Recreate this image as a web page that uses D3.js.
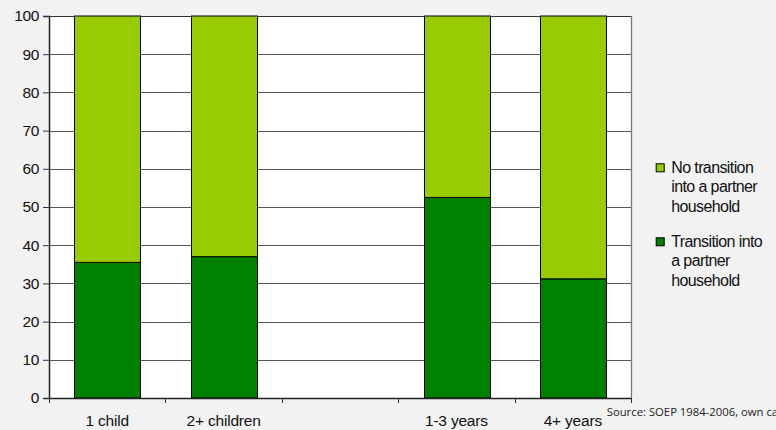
<!DOCTYPE html>
<html>
<head>
<meta charset="utf-8">
<script src="https://cdn.jsdelivr.net/npm/d3@7"></script>
<style>
  body { margin: 0; background: #f2f2f2; }
  text { font-family: "Liberation Sans", Arial, sans-serif; }
</style>
</head>
<body>
<div id="chart"></div>
<script>
// categories (empty slot between the two groups)
var categories = ["1 child", "2+ children", "", "1-3 years", "4+ years"];
var transition = [35.5, 37.0, null, 52.5, 31.2];
var noTransition = [64.5, 63.0, null, 47.5, 68.8];
var yTicks = [0, 10, 20, 30, 40, 50, 60, 70, 80, 90, 100];
var legendLines = [["No transition", "into a partner", "household"], ["Transition into", "a partner", "household"]];
var colors = ["#99cc00", "#008000"];

var margin = {top: 16, right: 145, bottom: 32, left: 49},
    width = 776 - margin.left - margin.right,
    height = 430 - margin.top - margin.bottom;

var svg = d3.select("#chart")
  .append("svg")
    .attr("width", 776)
    .attr("height", 430)
  .append("g")
    .attr("transform", "translate(" + margin.left + "," + margin.top + ")");

var x = d3.scaleBand()
  .domain(d3.range(categories.length))
  .range([0, width])
  .paddingInner(0.437)
  .paddingOuter(0.2185);

var y = d3.scaleLinear()
  .domain([0, 100])
  .range([height, 0]);

// plot background
svg.append("rect")
  .attr("width", width)
  .attr("height", height)
  .attr("fill", "#fff");

// gridlines
svg.append("g")
  .selectAll("line")
  .data(yTicks.slice(1))
  .enter()
  .append("line")
    .attr("x1", 0)
    .attr("x2", width)
    .attr("y1", function(d) { return Math.round(y(d)) + 0.5; })
    .attr("y2", function(d) { return Math.round(y(d)) + 0.5; })
    .attr("stroke", function(d) { return d === 100 ? "#333" : "#555"; })
    .attr("stroke-width", 1.2);

// right border
svg.append("line")
  .attr("x1", width + 0.5).attr("x2", width + 0.5)
  .attr("y1", 0).attr("y2", height)
  .attr("stroke", "#777")
  .attr("stroke-width", 1.3);

// stacked bars
var stack = categories.map(function(c, i) {
  return {i: i, t: transition[i], n: noTransition[i]};
}).filter(function(d) { return d.t !== null; });

var bars = svg.append("g");
bars.selectAll(".dark")
  .data(stack)
  .enter()
  .append("rect")
    .attr("x", function(d) { return Math.round(x(d.i)) + 0.5; })
    .attr("y", function(d) { return y(d.t); })
    .attr("width", Math.round(x.bandwidth()))
    .attr("height", function(d) { return height - y(d.t); })
    .attr("fill", colors[1])
    .attr("stroke", "#000");
bars.selectAll(".light")
  .data(stack)
  .enter()
  .append("rect")
    .attr("x", function(d) { return Math.round(x(d.i)) + 0.5; })
    .attr("y", function(d) { return y(d.t + d.n); })
    .attr("width", Math.round(x.bandwidth()))
    .attr("height", function(d) { return y(d.t) - y(d.t + d.n); })
    .attr("fill", colors[0])
    .attr("stroke", "#000");

// Y axis
var yAxis = svg.append("g")
  .call(d3.axisLeft(y).tickValues(yTicks).tickSize(6).tickPadding(4));
yAxis.select(".domain").attr("stroke", "#222").attr("stroke-width", 1.5);
yAxis.selectAll(".tick line").attr("stroke", "#333");
yAxis.selectAll("text")
  .style("font-size", "15.5px")
  .style("font-family", "'Liberation Sans', Arial, sans-serif")
  .style("letter-spacing", "-0.4px")
  .attr("fill", "#111");

// X axis: ticks at slot boundaries
var xAxis = svg.append("g")
  .attr("transform", "translate(0," + height + ")");
xAxis.append("line")
  .attr("x1", 0).attr("x2", width)
  .attr("y1", 0.5).attr("y2", 0.5)
  .attr("stroke", "#222").attr("stroke-width", 1.5);
xAxis.selectAll(".xt")
  .data(d3.range(categories.length + 1))
  .enter()
  .append("line")
    .attr("x1", function(d) { return Math.round(d * x.step()) + 0.5; })
    .attr("x2", function(d) { return Math.round(d * x.step()) + 0.5; })
    .attr("y1", 0).attr("y2", 5)
    .attr("stroke", "#333");
xAxis.selectAll(".xl")
  .data(categories)
  .enter()
  .append("text")
    .attr("x", function(d, i) { return x(i) + x.bandwidth() / 2; })
    .attr("y", 28)
    .attr("text-anchor", "middle")
    .style("font-size", "15.5px")
    .style("letter-spacing", "-0.2px")
    .attr("fill", "#111")
    .text(function(d) { return d; });

// legend
var legend = svg.append("g")
  .attr("transform", "translate(" + (width + 24.7) + ",0)");
var legendY = [147.3, 221.3];
legendLines.forEach(function(lines, k) {
  legend.append("rect")
    .attr("x", 0.5)
    .attr("y", legendY[k] + 0.5)
    .attr("width", 8)
    .attr("height", 8)
    .attr("fill", colors[k])
    .attr("stroke", "#000");
  legend.append("text")
    .attr("x", 15)
    .attr("y", legendY[k] + 9.5)
    .style("font-size", "16px")
    .style("letter-spacing", "-0.6px")
    .attr("fill", "#111")
    .selectAll("tspan")
    .data(lines)
    .enter()
    .append("tspan")
      .attr("x", 15.5)
      .attr("dy", function(d, i) { return i === 0 ? 0 : 19.5; })
      .text(function(d) { return d; });
});

// source note (runs off the right edge, as in the original)
svg.append("text")
  .attr("x", width - 24.3)
  .attr("y", height + 18)
  .style("font-family", "'Open Sans', 'DejaVu Sans', sans-serif")
  .style("font-size", "11.3px")
  .attr("fill", "#222")
  .text("Source: SOEP 1984-2006, own calculations");
</script>
</body>
</html>
